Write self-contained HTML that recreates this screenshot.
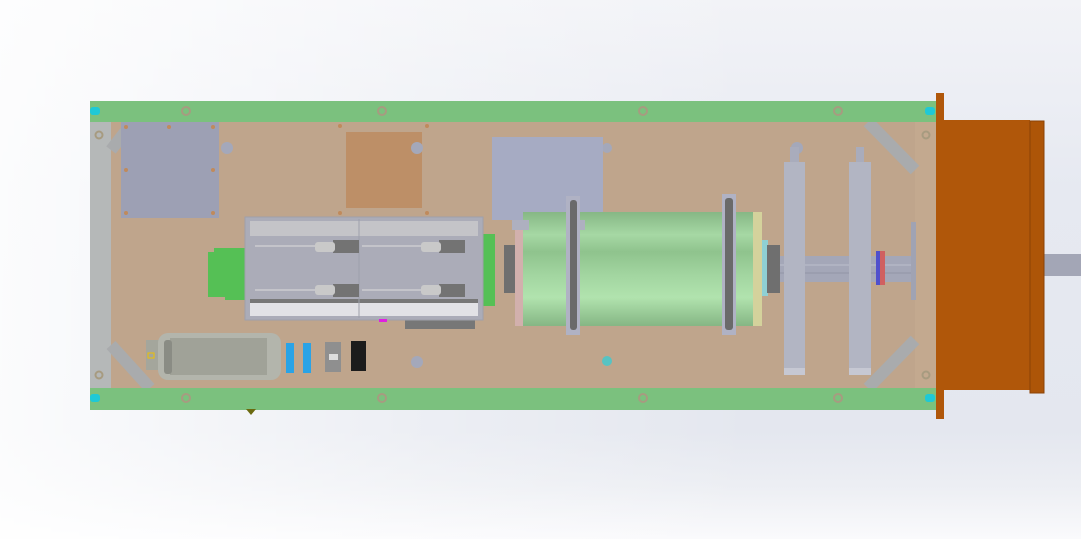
<!DOCTYPE html>
<html><head><style>
html,body{margin:0;padding:0;width:1081px;height:539px;overflow:hidden}
body{background:linear-gradient(to right,rgba(255,255,255,0.85) 0%,rgba(255,255,255,0.3) 40%,rgba(255,255,255,0) 70%),linear-gradient(to bottom,#f2f3f7 0%,#e6e9f1 35%,#e4e7ef 80%,#eceef3 90%,#fafafc 100%)}
svg{position:absolute;left:0;top:0}
</style></head><body>
<svg width="1081" height="539" viewBox="0 0 1081 539" xmlns="http://www.w3.org/2000/svg">
<defs>
<linearGradient id="cyl" x1="0" y1="0" x2="0" y2="1">
<stop offset="0" stop-color="#86b785"/><stop offset="0.2" stop-color="#a6d8a4"/><stop offset="0.35" stop-color="#8fc38d"/><stop offset="0.55" stop-color="#a2d5a0"/><stop offset="0.75" stop-color="#b1e3ae"/><stop offset="1" stop-color="#85b684"/>
</linearGradient>
</defs>
<!-- board -->
<rect x="90" y="122" width="846" height="266" fill="#bfa58c"/>
<rect x="90" y="122" width="21" height="266" fill="#b5b8b8"/>
<rect x="915" y="122" width="21" height="266" fill="#c3a98f"/>
<g stroke="#a9abad" stroke-width="12">
<line x1="111" y1="150" x2="125" y2="132"/>
<line x1="111" y1="345" x2="150" y2="388"/>
<line x1="868" y1="122" x2="915" y2="170"/>
<line x1="868" y1="388" x2="915" y2="340"/>
</g>
<rect x="90" y="101" width="846" height="21" fill="#7bc17e"/>
<rect x="90" y="388" width="846" height="22" fill="#7bc17e"/>
<g fill="none" stroke="#a79b80" stroke-width="2">
<circle cx="186" cy="111" r="4"/><circle cx="382" cy="111" r="4"/><circle cx="643" cy="111" r="4"/><circle cx="838" cy="111" r="4"/>
<circle cx="186" cy="398" r="4"/><circle cx="382" cy="398" r="4"/><circle cx="643" cy="398" r="4"/><circle cx="838" cy="398" r="4"/>
<circle cx="99" cy="135" r="3.5"/><circle cx="99" cy="375" r="3.5"/><circle cx="926" cy="135" r="3.5"/><circle cx="926" cy="375" r="3.5"/>
</g>
<g fill="#1fc9d6"><rect x="90" y="107" width="10" height="8" rx="3"/><rect x="90" y="394" width="10" height="8" rx="3"/><rect x="925" y="107" width="10" height="8" rx="3"/><rect x="925" y="394" width="10" height="8" rx="3"/></g>
<path d="M246 409 L256 409 L251 415 Z" fill="#6b6a10"/>
<rect x="121" y="122" width="98" height="96" fill="#9da0b4"/>
<g fill="#c08a5c"><circle cx="126" cy="127" r="2"/><circle cx="169" cy="127" r="2"/><circle cx="213" cy="127" r="2"/><circle cx="126" cy="170" r="2"/><circle cx="213" cy="170" r="2"/><circle cx="126" cy="213" r="2"/><circle cx="213" cy="213" r="2"/><circle cx="340" cy="126" r="2"/><circle cx="427" cy="126" r="2"/><circle cx="340" cy="213" r="2"/><circle cx="427" cy="213" r="2"/></g>
<rect x="346" y="132" width="76" height="76" fill="#bd8f67"/>
<g fill="#a4a8ba"><circle cx="227" cy="148" r="6"/><circle cx="417" cy="148" r="6"/><circle cx="417" cy="362" r="6"/><circle cx="797" cy="148" r="6"/><circle cx="607" cy="148" r="5"/></g>
<circle cx="607" cy="361" r="5" fill="#57c3c3"/>
<rect x="492" y="137" width="111" height="83" fill="#a6abc3"/>
<path d="M208 252 h6 v-4 h31 v52 h-20 v-3 h-17 z" fill="#55c055"/>
<rect x="483" y="234" width="12" height="72" fill="#55c055"/>
<rect x="405" y="316" width="70" height="13" fill="#777"/>
<rect x="245" y="217" width="238" height="103" fill="#abacb8" stroke="#9fa0aa"/>
<rect x="250" y="221" width="228" height="15" fill="#c4c4c8"/>
<rect x="250" y="303" width="228" height="13" fill="#e2e2e6"/>
<rect x="250" y="299" width="228" height="4" fill="#777"/>
<line x1="359" y1="219" x2="359" y2="318" stroke="#9ea0ab"/>
<g fill="#737373"><rect x="333" y="240" width="26" height="13"/><rect x="439" y="240" width="26" height="13"/><rect x="333" y="284" width="26" height="13"/><rect x="439" y="284" width="26" height="13"/></g>
<g fill="#c9c9c9"><rect x="315" y="242" width="20" height="10" rx="3"/><rect x="421" y="242" width="20" height="10" rx="3"/><rect x="315" y="285" width="20" height="10" rx="3"/><rect x="421" y="285" width="20" height="10" rx="3"/></g>
<g stroke="#dcdcdc"><line x1="255" y1="246" x2="315" y2="246"/><line x1="362" y1="246" x2="421" y2="246"/><line x1="255" y1="290" x2="315" y2="290"/><line x1="362" y1="290" x2="421" y2="290"/></g>
<rect x="379" y="319" width="8" height="3" fill="#e020e0"/>
<rect x="146" y="340" width="20" height="30" fill="#a4a69c"/>
<rect x="158" y="333" width="123" height="47" rx="10" fill="#b3b5ac"/>
<rect x="170" y="338" width="97" height="37" fill="#a0a298"/>
<rect x="164" y="340" width="8" height="34" rx="3" fill="#8a8c84"/>
<rect x="148" y="353" width="6" height="5" fill="none" stroke="#f0c000"/>
<rect x="286" y="343" width="8" height="30" fill="#2aa3e6"/><rect x="303" y="343" width="8" height="30" fill="#2aa3e6"/>
<rect x="325" y="342" width="16" height="30" fill="#8f8f8f"/><rect x="329" y="354" width="9" height="6" fill="#ddd"/>
<rect x="351" y="341" width="15" height="30" fill="#1c1c1c"/>
<rect x="504" y="245" width="11" height="48" fill="#6f6f6f"/>
<rect x="515" y="229" width="8" height="97" fill="#d2b0ad"/>
<rect x="523" y="212" width="230" height="114" fill="url(#cyl)"/>
<rect x="753" y="212" width="9" height="114" fill="#d4d29c"/>
<rect x="512" y="220" width="17" height="10" fill="#aeb0c0"/><rect x="568" y="220" width="17" height="10" fill="#aeb0c0"/>
<rect x="566" y="196" width="14" height="139" fill="#b0b2c4"/>
<rect x="570" y="200" width="7" height="130" rx="3" fill="#6a6a6a"/>
<rect x="722" y="194" width="14" height="141" fill="#b0b2c4"/>
<rect x="725" y="198" width="8" height="132" rx="3" fill="#6a6a6a"/>
<rect x="762" y="240" width="6" height="56" fill="#8fd0d4"/>
<rect x="767" y="245" width="13" height="48" fill="#6f6f6f"/>
<rect x="780" y="256" width="134" height="26" fill="#a4a7b8"/>
<line x1="780" y1="265" x2="914" y2="265" stroke="#bcbfcc"/><line x1="780" y1="273" x2="914" y2="273" stroke="#9295a6"/>
<rect x="876" y="251" width="5" height="34" fill="#5050cc"/><rect x="880" y="251" width="5" height="34" fill="#d06060"/>
<rect x="911" y="222" width="5" height="78" fill="#a0a3b3"/>
<rect x="790" y="147" width="9" height="16" fill="#a9acbc"/>
<rect x="856" y="147" width="8" height="16" fill="#a9acbc"/>
<rect x="784" y="162" width="21" height="213" fill="#b2b5c3"/><rect x="784" y="368" width="21" height="7" fill="#c6c8d3"/>
<rect x="849" y="162" width="22" height="213" fill="#b2b5c3"/><rect x="849" y="368" width="22" height="7" fill="#c6c8d3"/>
<rect x="1044" y="254" width="37" height="22" fill="#a3a6b6"/>
<rect x="944" y="120" width="86" height="270" fill="#b0570a"/>
<rect x="1030" y="121" width="14" height="272" fill="#ad5508" stroke="#8a4206" stroke-width="1"/>
<rect x="936" y="93" width="8" height="326" fill="#b0570a"/>
</svg>
</body></html>
